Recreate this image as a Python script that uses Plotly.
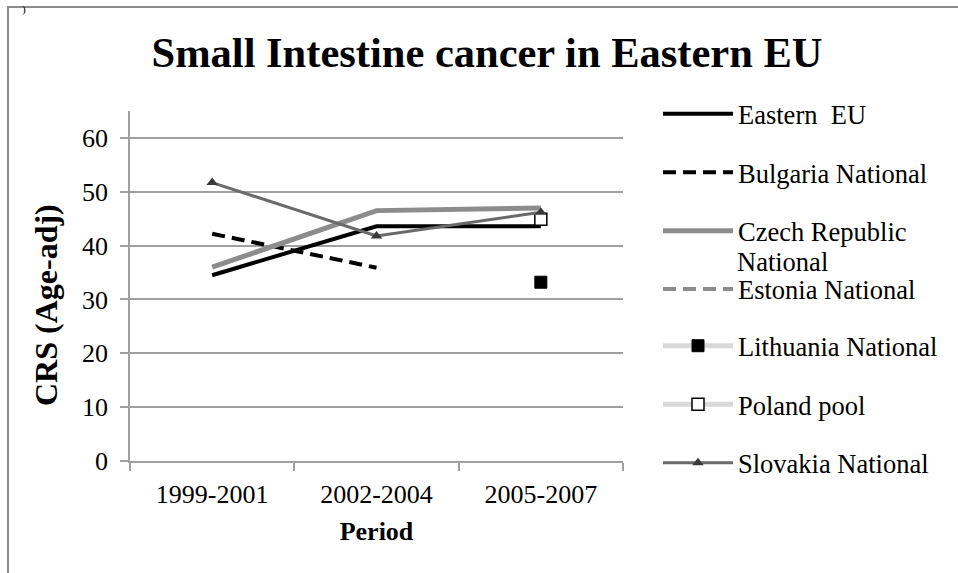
import plotly.graph_objects as go

periods = ["1999-2001", "2002-2004", "2005-2007"]
eastern_eu = [34.5, 43.6, 43.6]
bulgaria = [42.2, 35.9, None]
czech = [36.0, 46.5, 47.0]
estonia = [None, None, None]
lithuania = [None, None, 33.2]
poland = [None, None, 44.9]
slovakia = [51.7, 41.8, 46.2]

FONT = "Liberation Serif"

fig = go.Figure()
fig.add_trace(go.Scatter(x=periods, y=eastern_eu, name="Eastern  EU", mode="lines",
                         line=dict(color="black", width=4), legendgroup="a", legend="legend"))
fig.add_trace(go.Scatter(x=periods, y=bulgaria, name="Bulgaria National", mode="lines",
                         line=dict(color="black", width=4, dash="13px,7px"), legendgroup="b",
                         legend="legend"))
fig.add_trace(go.Scatter(x=periods, y=czech, name="Czech Republic", mode="lines",
                         line=dict(color="#8c8c8c", width=5), legendgroup="c", legend="legend"))
fig.add_trace(go.Scatter(x=periods, y=estonia, name="Estonia National", mode="lines",
                         line=dict(color="#8c8c8c", width=4, dash="13px,7px"), legendgroup="d",
                         legend="legend"))
fig.add_trace(go.Scatter(x=periods, y=lithuania, name="Lithuania National", mode="lines+markers",
                         line=dict(color="#d9d9d9", width=5),
                         marker=dict(symbol="square", size=12, color="black",
                                     line=dict(color="black", width=1)), legendgroup="e",
                         legend="legend2"))
fig.add_trace(go.Scatter(x=periods, y=poland, name="Poland pool", mode="lines+markers",
                         line=dict(color="#d9d9d9", width=5),
                         marker=dict(symbol="square", size=12, color="white",
                                     line=dict(color="black", width=1.5)), legendgroup="f",
                         legend="legend2"))
fig.add_trace(go.Scatter(x=periods, y=slovakia, name="Slovakia National", mode="lines+markers",
                         line=dict(color="#6a6a6a", width=3),
                         marker=dict(symbol="triangle-up", size=10, color="#3a3a3a"),
                         legendgroup="g", legend="legend2"))

L, R, T, B = 130, 623, 111, 461
W, H = 958, 573
pw, ph = R - L, B - T


def px(x):
    return (x - L) / pw


def py(y):
    return (B - y) / ph


legend_common = dict(xanchor="left", yanchor="top",
                     font=dict(family=FONT, size=26.5, color="black"),
                     tracegroupgap=21, itemwidth=70, traceorder="grouped",
                     bgcolor="rgba(0,0,0,0)")

fig.update_layout(
    width=W, height=H, autosize=False,
    margin=dict(l=L, r=W - R, t=T, b=H - B, autoexpand=False),
    paper_bgcolor="white", plot_bgcolor="white",
    font=dict(family=FONT, size=26, color="black"),
    title=dict(text="<b>Small Intestine cancer in Eastern EU</b>",
               font=dict(family=FONT, size=42.5, color="black"),
               x=487 / W, xanchor="center", xref="container",
               y=1 - 52 / H, yanchor="middle", yref="container", automargin=False),
    showlegend=True,
    legend=dict(x=px(658), y=py(90), **legend_common),
    legend2=dict(x=px(658), y=py(322), **legend_common),
    xaxis=dict(type="category", range=[-0.5, 2.5], tickson="boundaries",
               ticks="outside", ticklen=8, tickcolor="#a0a0a0", tickwidth=1.5,
               showline=True, linecolor="#a0a0a0", linewidth=1.5,
               showgrid=False, zeroline=False, ticklabelstandoff=9, automargin=False,
               tickfont=dict(family=FONT, size=26),
               title=dict(text="<b>Period</b>", font=dict(family=FONT, size=26), standoff=14)),
    yaxis=dict(range=[0, 65], tickvals=[0, 10, 20, 30, 40, 50, 60],
               ticks="outside", ticklen=8, tickcolor="#a0a0a0", tickwidth=1.5,
               showline=True, linecolor="#a0a0a0", linewidth=1.5,
               showgrid=True, gridcolor="#a0a0a0", gridwidth=1.5, zeroline=False,
               ticklabelstandoff=7, automargin=False, tickfont=dict(family=FONT, size=26)),
)

# y-axis title (placed like the reference, slightly below the plot centre)
fig.add_annotation(text="<b>CRS (Age-adj)</b>", xref="paper", yref="paper",
                   x=px(46), y=py(305), xanchor="center", yanchor="middle", textangle=-90,
                   showarrow=False, font=dict(family=FONT, size=32, color="black"))
fig.add_annotation(text="National", xref="paper", yref="paper",
                   x=px(735), y=py(262), xanchor="left", yanchor="middle",
                   showarrow=False, font=dict(family=FONT, size=26.5, color="black"))
fig.add_annotation(text=")", xref="paper", yref="paper",
                   x=px(24), y=py(1), xanchor="center", yanchor="top",
                   showarrow=False, font=dict(family=FONT, size=11, color="black"))

fig.add_shape(type="rect", xref="paper", yref="paper",
              x0=px(8), x1=px(W + 10), y0=py(H + 10), y1=py(7),
              line=dict(color="#8a8a8a", width=2), fillcolor="rgba(0,0,0,0)", layer="below")

fig.write_html("out.html", config={"displayModeBar": False},
               post_script="document.body.style.margin='0';")
